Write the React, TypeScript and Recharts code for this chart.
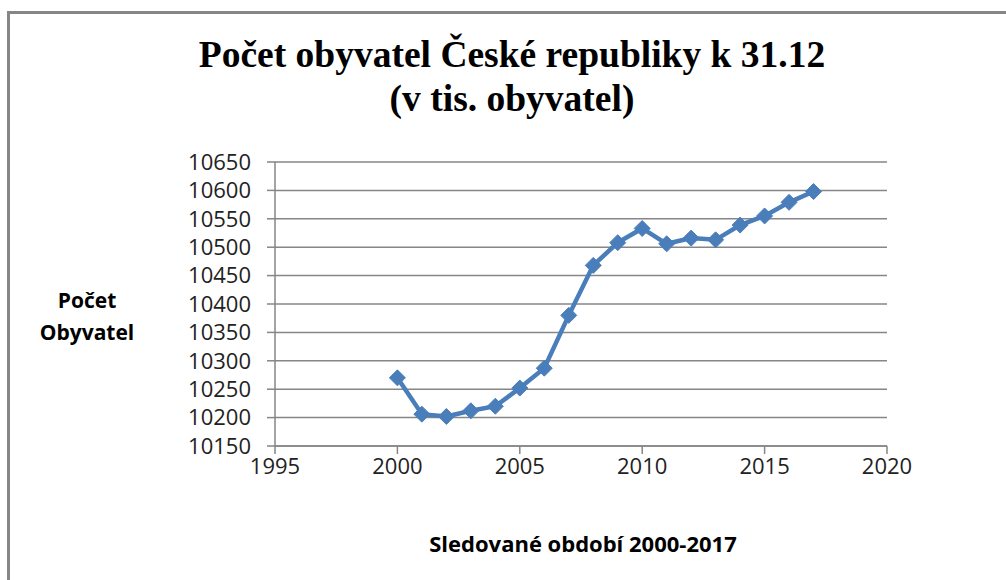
import React from "react";
import { LineChart, Line, XAxis, YAxis, CartesianGrid } from "recharts";

const years = [2000, 2001, 2002, 2003, 2004, 2005, 2006, 2007, 2008, 2009, 2010, 2011, 2012, 2013, 2014, 2015, 2016, 2017];
const population = [10270, 10206, 10202, 10212, 10220, 10252, 10287, 10380, 10468, 10508, 10533, 10506, 10516, 10513, 10539, 10555, 10579, 10598];
const xTicks = [1995, 2000, 2005, 2010, 2015, 2020];
const yTicks = [10150, 10200, 10250, 10300, 10350, 10400, 10450, 10500, 10550, 10600, 10650];
const titleLines = ["Počet obyvatel České republiky k 31.12", "(v tis. obyvatel)"];
const yLabelLines = ["Počet", "Obyvatel"];
const xLabel = "Sledované období 2000-2017";

const data = years.map((y, i) => ({ year: y, value: population[i] }));

const LINE = "#4A7EBB";
const GRID = "#868686";

const Diamond = (props: any) => {
  const { cx, cy } = props;
  if (cx == null || cy == null) return null;
  const r = 8;
  return (
    <polygon
      points={`${cx},${cy - r} ${cx + r},${cy} ${cx},${cy + r} ${cx - r},${cy}`}
      fill={LINE}
      stroke={LINE}
      strokeWidth={1}
    />
  );
};

export default function App() {
  return (
    <div style={{ position: "absolute", left: 0, top: 0, width: 1006, height: 580, background: "#fff", overflow: "hidden" }}>
      <div
        style={{
          position: "absolute",
          left: 7,
          top: 11,
          width: 1100,
          height: 700,
          borderLeft: `3px solid ${GRID}`,
          borderTop: `3px solid ${GRID}`,
        }}
      />
      <div
        style={{
          position: "absolute",
          left: 0,
          top: 33,
          width: 1024,
          textAlign: "center",
          fontFamily: "'Liberation Serif', 'Times New Roman', serif",
          fontWeight: "bold",
          fontSize: 37.5,
          lineHeight: "44px",
          color: "#000",
        }}
      >
        {titleLines.map((t) => (
          <div key={t}>{t}</div>
        ))}
      </div>
      <div
        style={{
          position: "absolute",
          left: 26,
          top: 284,
          width: 122,
          textAlign: "center",
          fontFamily: "'Open Sans', sans-serif",
          fontWeight: "bold",
          fontSize: 21,
          lineHeight: "32px",
          color: "#000",
        }}
      >
        {yLabelLines.map((t) => (
          <div key={t}>{t}</div>
        ))}
      </div>
      <div
        style={{
          position: "absolute",
          left: 333,
          top: 527,
          width: 500,
          textAlign: "center",
          fontFamily: "'Open Sans', sans-serif",
          fontWeight: "bold",
          fontSize: 22,
          lineHeight: "32px",
          color: "#000",
        }}
      >
        {xLabel}
      </div>
      <div style={{ position: "absolute", left: 0, top: 0 }}>
        <LineChart
          width={1006}
          height={580}
          data={data}
          margin={{ top: 162, right: 119, bottom: 74, left: 215 }}
        >
          <CartesianGrid vertical={false} stroke={GRID} strokeWidth={1.5} />
          <XAxis
            type="number"
            dataKey="year"
            domain={[1995, 2020]}
            ticks={xTicks}
            interval={0}
            height={60}
            stroke={GRID}
            strokeWidth={1.5}
            tickSize={8}
            tickMargin={4}
            tick={{ fill: "#222", fontSize: 22, fontFamily: "'Open Sans', sans-serif" }}
          />
          <YAxis
            type="number"
            domain={[10150, 10650]}
            ticks={yTicks}
            interval={0}
            width={60}
            stroke={GRID}
            strokeWidth={1.5}
            tickSize={8}
            tickMargin={16}
            tick={{ fill: "#222", fontSize: 22, fontFamily: "'Open Sans', sans-serif" }}
          />
          <Line
            type="linear"
            dataKey="value"
            stroke={LINE}
            strokeWidth={4.5}
            dot={<Diamond />}
            isAnimationActive={false}
          />
        </LineChart>
      </div>
    </div>
  );
}
